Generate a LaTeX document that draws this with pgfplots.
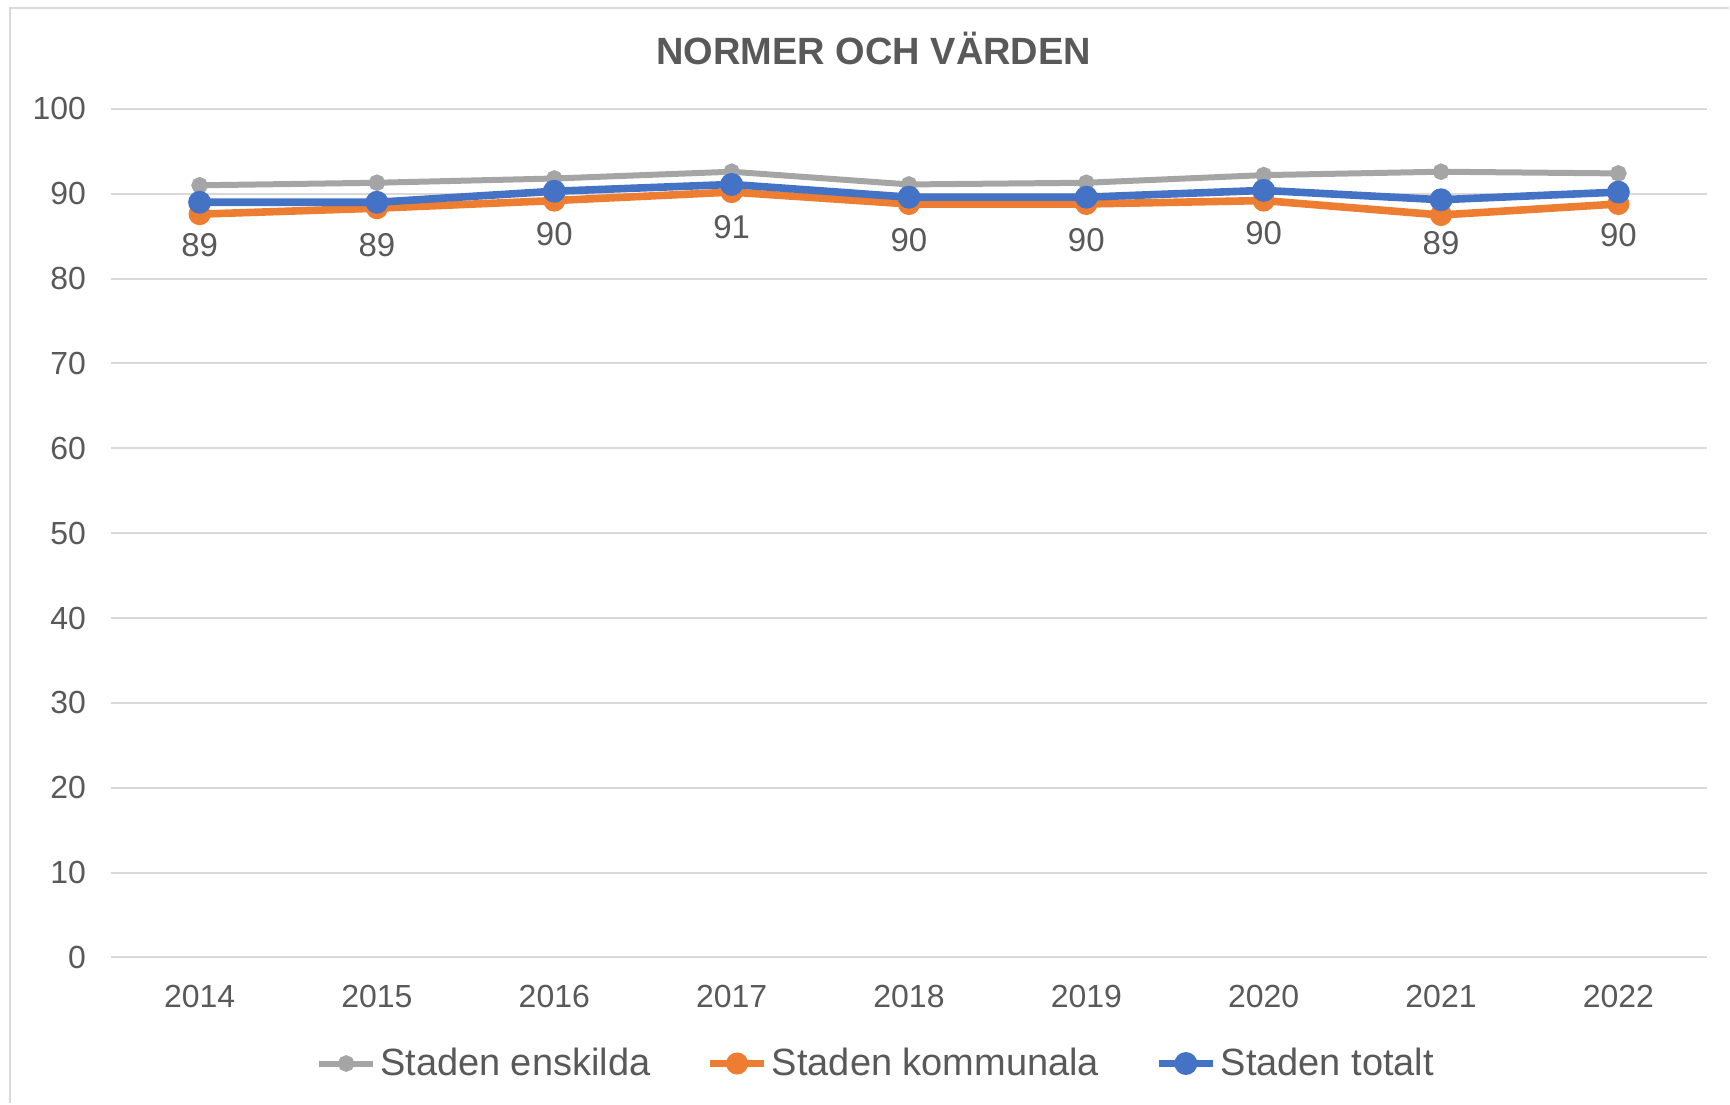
\documentclass[border=0pt]{standalone}
\usepackage{pgfplots}
\pgfplotsset{compat=1.18}
\usepackage{fontspec}
\setmainfont{Liberation Sans}
\definecolor{txt}{HTML}{595959}
\definecolor{grd}{HTML}{D9D9D9}
\definecolor{cgrey}{HTML}{A5A5A5}
\definecolor{corange}{HTML}{ED7D31}
\definecolor{cblue}{HTML}{4472C4}
\begin{document}
\begin{tikzpicture}[x=1pt,y=1pt]
 % canvas: 1 px of the reference = 0.5pt, origin at plot corner (111,958)
 \path (-55.5,-73) rectangle (809.5,479);
 \draw[grd,line width=1pt] (-50.5,-73) -- (-50.5,475) -- (809.5,475);
 \begin{axis}[at={(0,0)},anchor=south west,scale only axis,
  width=798.5pt,height=424.5pt,
  xmin=-0.5,xmax=8.5,ymin=0,ymax=100,
  xtick={0,...,8},xticklabels={2014,2015,2016,2017,2018,2019,2020,2021,2022},
  ytick={0,10,...,100},
  axis line style={draw=none},major tick length=0pt,
  ymajorgrids,grid style={grd,line width=1pt},
  every tick label/.style={font=\fontsize{16}{19}\selectfont,text=txt},
  /pgf/number format/assume math mode=true,
  xticklabel style={yshift=-10.5pt},
  yticklabel style={xshift=-9pt},
  clip=false,
  legend columns=-1,
  legend style={draw=none,fill=none,at={(0.48,-0.125)},anchor=center,
   font=\fontsize{19}{22}\selectfont,text=txt,
   /tikz/every even column/.append style={column sep=26pt},
   inner sep=0pt},
  legend image code/.code={
   \draw[#1,mark=none] (0pt,0pt) -- (27pt,0pt);
   \path[#1,only marks] plot coordinates {(13.5pt,0pt)};},
 ]
  \addplot[cgrey,line width=3pt,mark=*,mark size=2.6pt] coordinates {
   (0,91.0)(1,91.3)(2,91.8)(3,92.6)(4,91.1)(5,91.3)(6,92.2)(7,92.6)(8,92.4)};
  \addlegendentry{Staden enskilda}
  \addplot[corange,line width=3.8pt,mark=*,mark size=3.6pt] coordinates {
   (0,87.6)(1,88.3)(2,89.2)(3,90.2)(4,88.8)(5,88.8)(6,89.2)(7,87.5)(8,88.8)};
  \addlegendentry{Staden kommunala}
  \addplot[cblue,line width=3.8pt,mark=*,mark size=3.8pt,
   nodes near coords={\pgfmathprintnumber[fixed,precision=0]{\pgfplotspointmeta}},
   every node near coord/.append style={anchor=center,yshift=-21.5pt,
    font=\fontsize{16.5}{19}\selectfont,text=txt,
    /pgf/number format/assume math mode=true}] coordinates {
   (0,89.0)(1,89.0)(2,90.3)(3,91.1)(4,89.6)(5,89.6)(6,90.4)(7,89.3)(8,90.2)};
  \addlegendentry{Staden totalt}
  \node[font=\bfseries\fontsize{19}{22}\selectfont,text=txt,anchor=center]
   at (rel axis cs:0.478,1.071) {NORMER OCH VÄRDEN};
 \end{axis}
\end{tikzpicture}
\end{document}
